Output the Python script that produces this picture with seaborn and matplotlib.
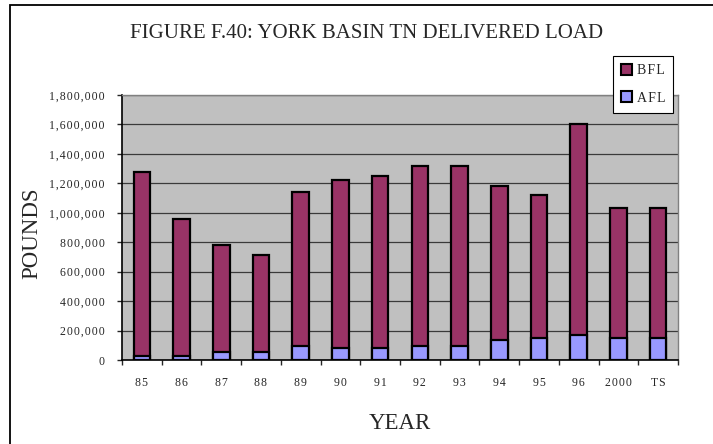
import matplotlib
matplotlib.use("Agg")
import matplotlib.pyplot as plt
import matplotlib.ticker as mticker
from matplotlib.patches import Patch, Rectangle
import numpy as np
import pandas as pd
import seaborn as sns

# data (pounds)
years = ["85", "86", "87", "88", "89", "90", "91", "92", "93", "94", "95", "96", "2000", "TS"]
afl = [24000, 24000, 54000, 54000, 95000, 81000, 81000, 95000, 95000, 135000, 149000, 169000, 149000, 149000]
bfl = [1253000, 931000, 728000, 658000, 1046000, 1142000, 1166000, 1221000, 1221000, 1045000, 974000, 1431000, 883000, 883000]

title = "FIGURE F.40: YORK BASIN TN DELIVERED LOAD"
bfl_color = "#993366"
afl_color = "#9999FF"

df = pd.DataFrame({"year": years, "AFL": afl, "BFL": bfl})
df["total"] = df["AFL"] + df["BFL"]

sns.set_style("white")
plt.rcParams["font.family"] = ["Liberation Serif", "DejaVu Serif"]

fig = plt.figure(figsize=(7.13, 4.44), dpi=100)
ax = fig.add_axes([122 / 713, 1 - 360 / 444, 556 / 713, 265 / 444])
ax.set_facecolor("#C0C0C0")

# stacked bars: total in BFL colour, AFL drawn over the bottom part
sns.barplot(data=df, x="year", y="total", color=bfl_color, saturation=1,
            width=0.42, edgecolor="black", linewidth=1.6, ax=ax, zorder=3)
sns.barplot(data=df, x="year", y="AFL", color=afl_color, saturation=1,
            width=0.42, edgecolor="black", linewidth=1.6, ax=ax, zorder=4)

ax.set_ylim(0, 1800000)
ax.set_xlim(-0.5, len(years) - 0.5)
ax.yaxis.set_major_locator(mticker.MultipleLocator(200000))

HS = "\u200a"  # hair space, mimics the letter spacing of the original


def spaced(v, pos):
    return HS.join(f"{int(v):,}")


ax.yaxis.set_major_formatter(mticker.FuncFormatter(spaced))
ax.grid(axis="y", color="#3a3a3a", linewidth=0.9, zorder=1)
ax.set_axisbelow(True)

ax.set_xticks(range(len(years)))
ax.set_xticklabels([HS.join(y) for y in years])
ax.set_xticks(np.arange(-0.5, len(years)), minor=True)
ax.tick_params(axis="x", which="major", length=0, pad=12, labelsize=8.5)
ax.tick_params(axis="x", which="minor", length=3.6, width=1, direction="out", bottom=True)
ax.tick_params(axis="y", length=3.6, width=1, direction="out", left=True, pad=9, labelsize=8.5)

for side in ["left", "bottom"]:
    ax.spines[side].set_color("black")
    ax.spines[side].set_linewidth(1.2)
for side in ["top", "right"]:
    ax.spines[side].set_color("#808080")
    ax.spines[side].set_linewidth(1)

ax.set_xlabel("YEAR", fontsize=16.5, labelpad=0)
ax.xaxis.set_label_coords(0.5, -(413 - 360) / 265)
ax.set_ylabel("POUNDS", fontsize=16.5)
ax.yaxis.set_label_coords(-(122 - 42) / 556, 0.48)

fig.text(367 / 713, 1 - 34 / 444, title, ha="center", va="center", fontsize=15)

handles = [Patch(facecolor=bfl_color, edgecolor="black", linewidth=1.5, label=HS.join("BFL")),
           Patch(facecolor=afl_color, edgecolor="black", linewidth=1.5, label=HS.join("AFL"))]
leg = fig.legend(handles=handles, loc="upper left", bbox_to_anchor=(613 / 713, 1 - 56 / 444),
                 fontsize=10, frameon=True, fancybox=False, handlelength=0.8, handleheight=0.8,
                 handletextpad=0.3, borderpad=0.6, labelspacing=1.0, borderaxespad=0)
leg.get_frame().set_edgecolor("black")
leg.get_frame().set_linewidth(0.8)
leg.get_frame().set_alpha(1)

# outer chart border (left and top edges visible in the crop)
fig.add_artist(Rectangle((10 / 713, -0.1), 1.2, 1.1 - 5.5 / 444, transform=fig.transFigure,
                         fill=False, edgecolor="black", linewidth=1.3, clip_on=False))

fig.savefig("out.png", dpi=100)
